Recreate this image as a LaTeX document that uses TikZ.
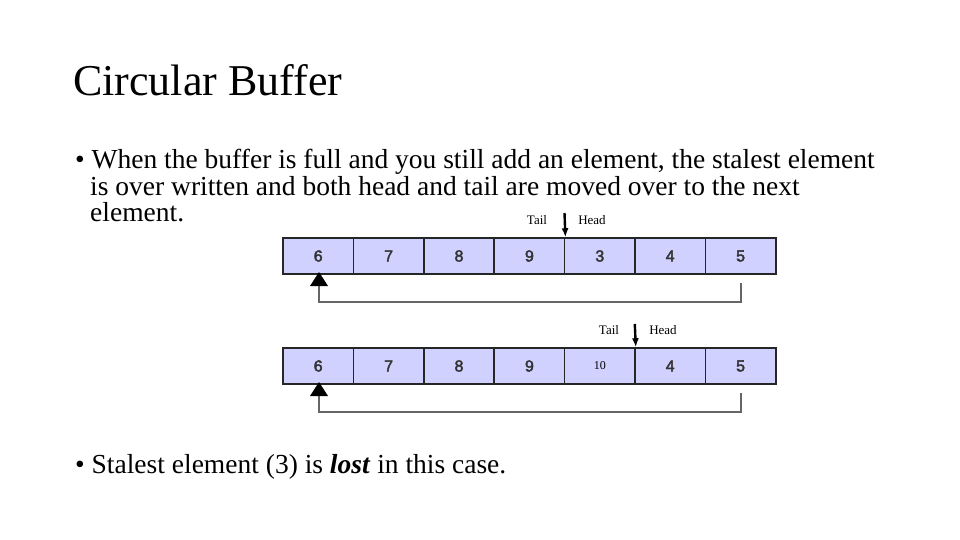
\documentclass[tikz,border=0pt]{standalone}
\usepackage{fontspec}
\usetikzlibrary{arrows.meta}
\setmainfont{Liberation Serif}
\newfontfamily\cellfont[FakeBold=2.5]{Liberation Sans}
\begin{document}
\begin{tikzpicture}[x=1pt,y=-1pt,
  cell/.style={draw=black!85,line width=1.5pt,fill=blue!18!white,minimum width=70.5pt,minimum height=36pt,inner sep=0pt,font={\cellfont\fontsize{16}{16}\selectfont},text=black!80},
  ret/.style={draw=black!60,line width=1.6pt},
  lab/.style={font=\fontsize{13}{13}\selectfont,inner sep=0pt},
  ptr/.style={-{Latex[length=9pt,width=7pt]},line width=2.4pt},
  txt/.style={anchor=base west,inner sep=0pt,font=\fontsize{27.5}{27.5}\selectfont}]
\useasboundingbox (0,0) rectangle (960,540);
\node[anchor=base west,inner sep=0pt,font=\fontsize{44}{44}\selectfont] (title) at (73,96) {Circular Buffer};
\node[txt] (b1) at (75,168) {\textbullet\ When the buffer is full and you still add an element, the stalest element};
\node[txt] (b2) at (90,195) {is over written and both head and tail are moved over to the next};
\node[txt] (b3) at (90,221) {element.};
\node[txt] (b4) at (75,473) {\textbullet\ Stalest element (3) is \textbf{\textit{lost}} in this case.};
\foreach \v [count=\i] in {6,7,8,9,3,4,5}{
  \node[cell] (a\i) at ({283+70.4*(\i-0.5)},256) {\v};
}
\foreach \v [count=\i] in {6,7,8,9,{},4,5}{
  \node[cell] (c\i) at ({283+70.4*(\i-0.5)},366) {\v};
}
\node[font=\fontsize{12}{12}\selectfont] (ten) at (c5.center) {10};
\coordinate (r1) at (741,283);
\coordinate (r1b) at (741,302);
\coordinate (r1c) at (319,302);
\coordinate (r1d) at (319,277);
\draw[ret] (r1) -- (r1b) -- (r1c) -- (r1d);
\fill (r1d) ++(-9,9) -- ++(9,-14) -- ++(9,14) -- cycle;
\coordinate (r2) at (741,393);
\coordinate (r2b) at (741,412);
\coordinate (r2c) at (319,412);
\coordinate (r2d) at (319,387);
\draw[ret] (r2) -- (r2b) -- (r2c) -- (r2d);
\fill (r2d) ++(-9,9) -- ++(9,-14) -- ++(9,14) -- cycle;
\coordinate (p1) at (564.5,213);
\draw[ptr] (p1) -- (a4.north east);
\node[lab] (t1) at (537,220) {Tail};
\node[lab] (h1) at (592,220) {Head};
\coordinate (p2) at (634.8,324);
\draw[ptr] (p2) -- (c5.north east);
\node[lab] (t2) at (609,330) {Tail};
\node[lab] (h2) at (663,330) {Head};
\end{tikzpicture}
\end{document}
